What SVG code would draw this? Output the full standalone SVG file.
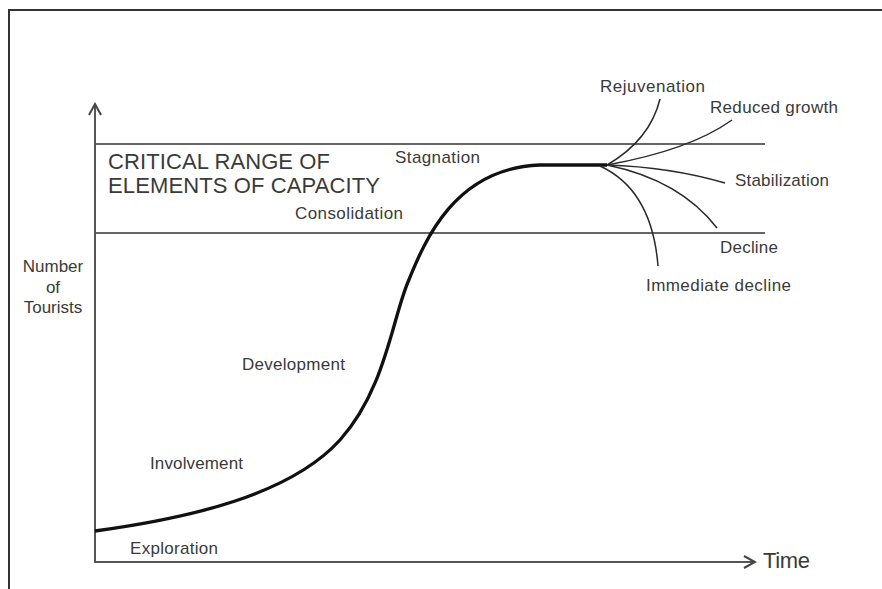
<svg xmlns="http://www.w3.org/2000/svg" width="882" height="589" viewBox="0 0 882 589">
<defs>
<style>
.t{font-family:"Liberation Sans",Arial,sans-serif;fill:#3a3a3a;font-size:17px}
.big{font-size:22px}
.axis{stroke:#555;stroke-width:2;fill:none}
.rng{stroke:#333;stroke-width:1.6;fill:none}
.br{stroke:#2a2a2a;stroke-width:1.5;fill:none}
</style>
<marker id="ah" viewBox="0 0 14 14" refX="12" refY="7" markerWidth="14" markerHeight="14" markerUnits="userSpaceOnUse" orient="auto">
<path d="M1,1 L12,7 L1,13" fill="none" stroke="#444" stroke-width="2"/>
</marker>
</defs>
<rect width="882" height="589" fill="#fff"/>
<path d="M9,589 V10 H882" fill="none" stroke="#333" stroke-width="2"/>
<g id="axes">
<path class="axis" d="M95,562 V104" marker-end="url(#ah)"/>
<path class="axis" d="M94,562 H755" marker-end="url(#ah)"/>
</g>
<g id="range">
<path class="rng" d="M96,144 H765"/>
<path class="rng" d="M96,233 H765"/>
</g>
<g id="connectors">
<path id="curve" d="M95,531 C190,518 290,495 340,440 C385,390 392,320 408,282 C425,240 455,168 540,165 L607,165" fill="none" stroke="#111" stroke-width="3.3"/>
<path class="br" d="M607,165 Q650,140 660,99"/>
<path class="br" d="M607,165 Q690,150 732,120"/>
<path class="br" d="M607,165 Q670,167 725,183"/>
<path class="br" d="M607,165 Q680,180 717,228"/>
<path class="br" d="M600,166 Q652,190 658,266"/>
</g>
<g id="labels">
<text class="t big" x="108" y="169" textLength="222">CRITICAL RANGE OF</text>
<text class="t big" x="108" y="193" textLength="272">ELEMENTS OF CAPACITY</text>
<text class="t" x="395" y="163" textLength="85">Stagnation</text>
<text class="t" x="295" y="219" textLength="108">Consolidation</text>
<text class="t" x="242" y="370" textLength="103">Development</text>
<text class="t" x="150" y="469" textLength="93">Involvement</text>
<text class="t" x="130" y="554" textLength="88">Exploration</text>
<text class="t" x="53" y="272" text-anchor="middle">Number</text>
<text class="t" x="53" y="293" text-anchor="middle">of</text>
<text class="t" x="53" y="313" text-anchor="middle">Tourists</text>
<text class="t" x="600" y="92" textLength="105">Rejuvenation</text>
<text class="t" x="710" y="113" textLength="128">Reduced growth</text>
<text class="t" x="735" y="186" textLength="94">Stabilization</text>
<text class="t" x="720" y="253" textLength="58">Decline</text>
<text class="t" x="646" y="291" textLength="145">Immediate decline</text>
<text class="t" x="763" y="568" style="font-size:22px" textLength="47">Time</text>
</g>
</svg>
